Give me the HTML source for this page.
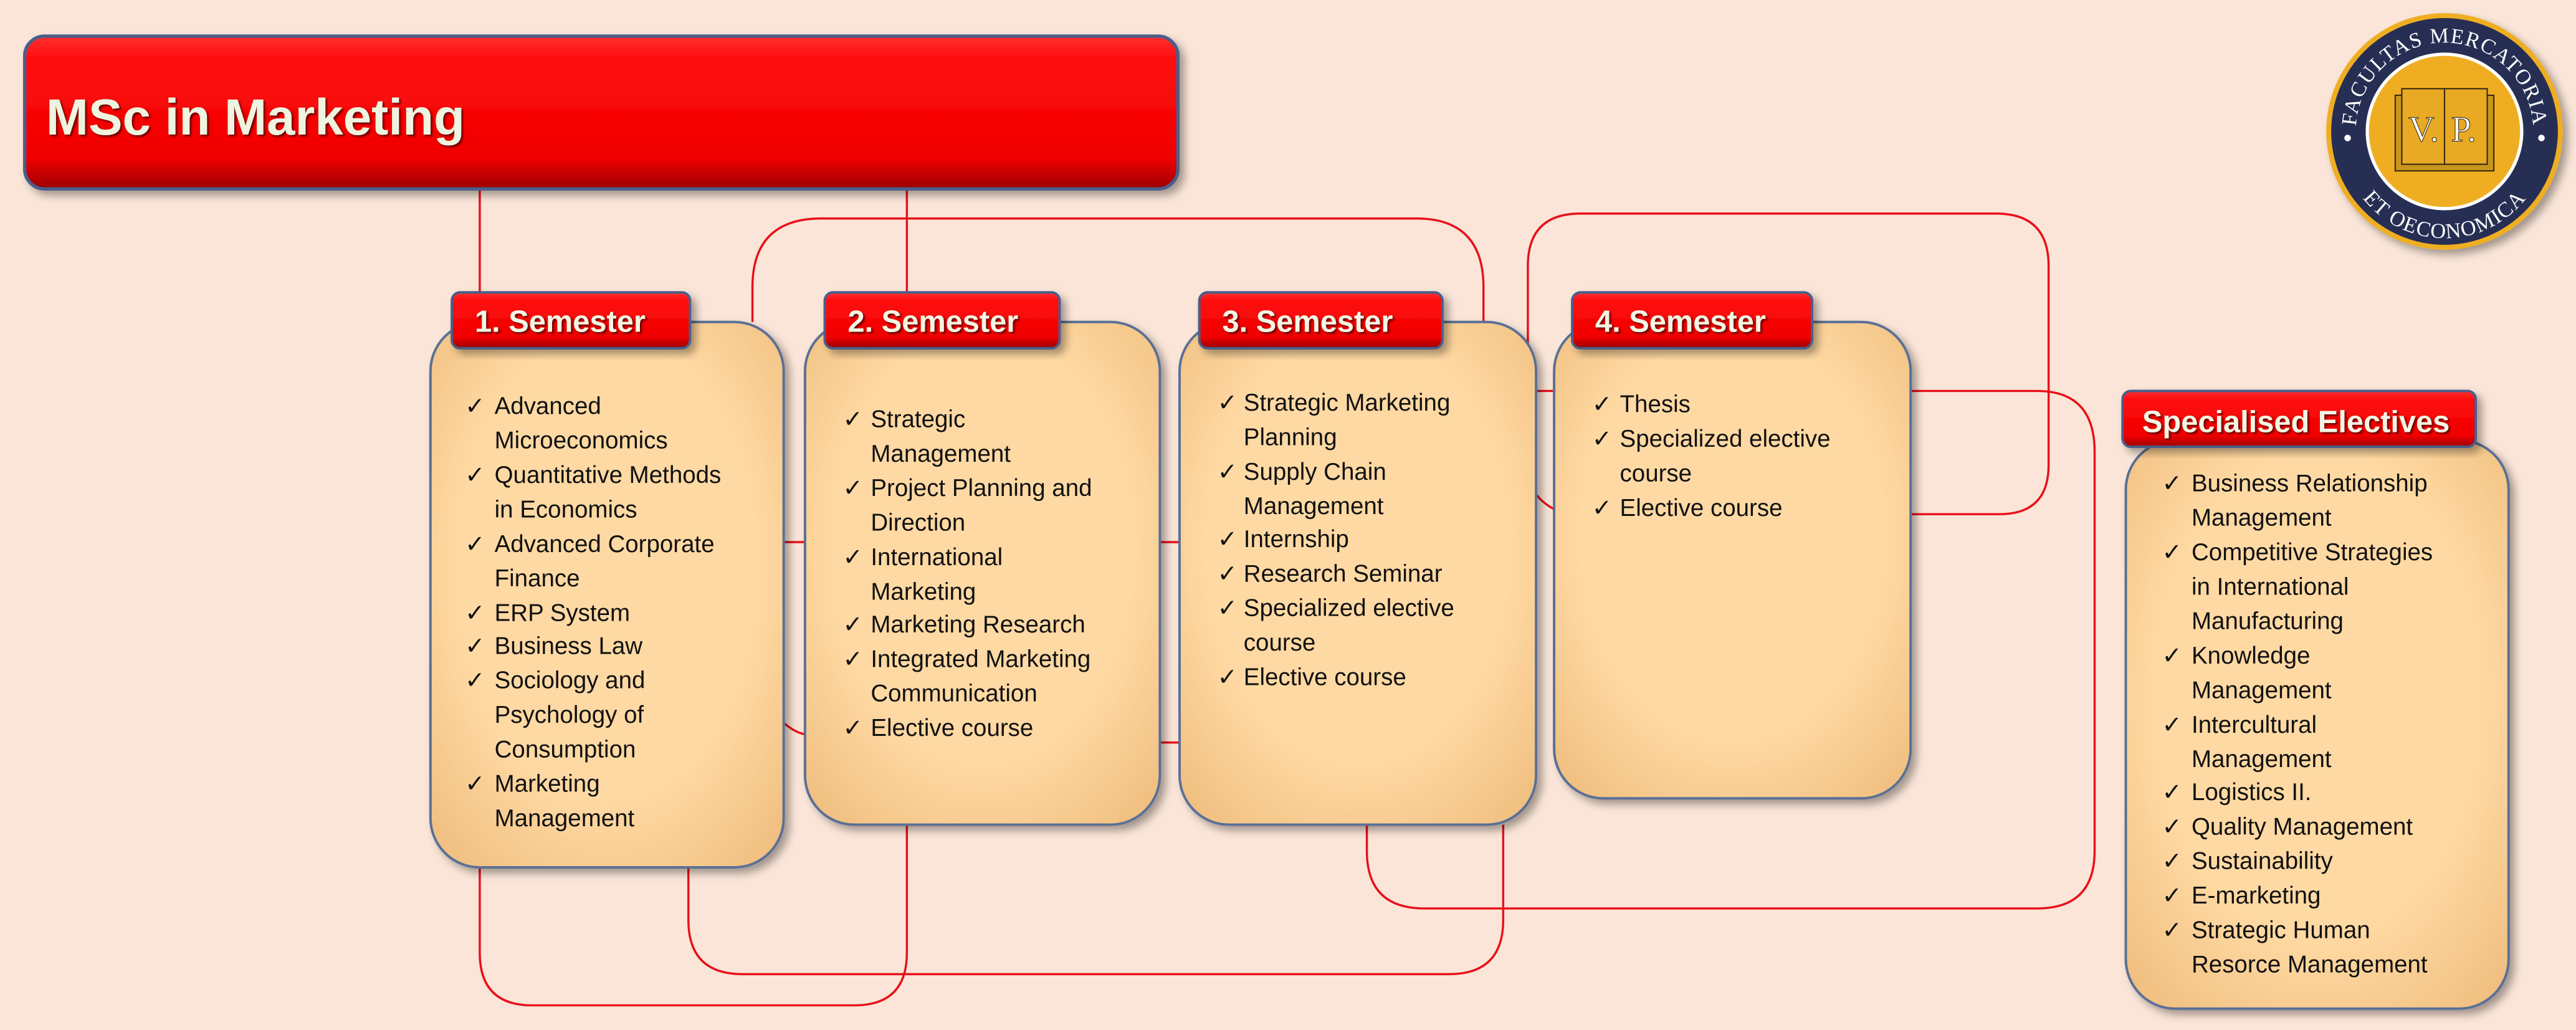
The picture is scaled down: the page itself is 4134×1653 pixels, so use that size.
<!DOCTYPE html>
<html><head><meta charset="utf-8"><style>
html,body{margin:0;padding:0;background:#fae5d8;}
svg{display:block}
.t{font-family:"Liberation Sans",sans-serif;font-size:14.6px;fill:#111}
.h{font-family:"Liberation Sans",sans-serif;font-weight:bold;font-size:18.5px;fill:#f2f6e4}
.ln{fill:none;stroke:#e8101a;stroke-width:1.3}
</style></head><body>
<svg width="4134" height="1653" viewBox="0 0 1568 627" xmlns="http://www.w3.org/2000/svg">
<defs>
<linearGradient id="red" x1="0" y1="0" x2="0" y2="1">
<stop offset="0" stop-color="#ff3030"/><stop offset="0.15" stop-color="#ff0d0d"/><stop offset="0.8" stop-color="#f00000"/><stop offset="1" stop-color="#9a0000"/></linearGradient>
<radialGradient id="peach" cx="0.5" cy="0.45" r="0.7">
<stop offset="0.6" stop-color="#ffd9a3"/><stop offset="1" stop-color="#f0bf80"/></radialGradient>
<filter id="sh" x="-10%" y="-10%" width="130%" height="130%"><feDropShadow dx="3" dy="3" stdDeviation="2.5" flood-color="#000" flood-opacity="0.35"/></filter>
<filter id="ts"><feDropShadow dx="1" dy="1" stdDeviation="0.6" flood-color="#000" flood-opacity="0.6"/></filter>
<path id="arcTop" d="M1434,80 A54,54 0 0 1 1542,80"/>
<path id="arcBot" d="M1425,82 A63,63 0 0 0 1551,82"/>
</defs>
<rect width="1568" height="627" fill="#fae5d8"/>

<path class="ln" d="M292,115 V178 M552,115 V178"/>
<path class="ln" d="M458,196 V175 Q458,133 500,133 H862 Q903,133 903,175 V196"/>
<path class="ln" d="M946,310 Q933,303 930,290 V162 Q930,130 962,130 H1215 Q1247,130 1247,162 V283 Q1247,313 1217,313 H1163"/>
<path class="ln" d="M935,238 H946"/>
<path class="ln" d="M1163,238 H1240 Q1275,238 1275,275 V518 Q1275,553 1240,553 H867 Q832,553 832,518 V502"/>
<path class="ln" d="M292,528 V580 Q292,612 324,612 H520 Q552,612 552,580 V502"/>
<path class="ln" d="M419,528 V560 Q419,593 452,593 H882 Q915,593 915,560 V502"/>
<path class="ln" d="M477,330 H490 M477,440 Q484,446 490,447 M706,330 H718 M706,452 H718"/>

<rect x="15" y="22" width="702" height="93" rx="12" fill="url(#red)" stroke="#4a5f8a" stroke-width="2" filter="url(#sh)"/>
<text x="28" y="82" font-family="Liberation Sans,sans-serif" font-weight="bold" font-size="31" fill="#eef4e0" filter="url(#ts)">MSc in Marketing</text>

<rect x="262" y="196" width="215" height="332" rx="30" fill="url(#peach)" stroke="#5a6f95" stroke-width="1.5" filter="url(#sh)"/>
<rect x="490" y="196" width="216" height="306" rx="30" fill="url(#peach)" stroke="#5a6f95" stroke-width="1.5" filter="url(#sh)"/>
<rect x="718" y="196" width="217" height="306" rx="30" fill="url(#peach)" stroke="#5a6f95" stroke-width="1.5" filter="url(#sh)"/>
<rect x="946" y="196" width="217" height="290" rx="30" fill="url(#peach)" stroke="#5a6f95" stroke-width="1.5" filter="url(#sh)"/>
<rect x="1294" y="268" width="233" height="346" rx="30" fill="url(#peach)" stroke="#5a6f95" stroke-width="1.5" filter="url(#sh)"/>

<rect x="275" y="178" width="145" height="34" rx="5" fill="url(#red)" stroke="#4a5f8a" stroke-width="1.5" filter="url(#sh)"/>
<rect x="502" y="178" width="143" height="34" rx="5" fill="url(#red)" stroke="#4a5f8a" stroke-width="1.5" filter="url(#sh)"/>
<rect x="730" y="178" width="148" height="34" rx="5" fill="url(#red)" stroke="#4a5f8a" stroke-width="1.5" filter="url(#sh)"/>
<rect x="957" y="178" width="146" height="34" rx="5" fill="url(#red)" stroke="#4a5f8a" stroke-width="1.5" filter="url(#sh)"/>
<rect x="1292" y="238" width="215" height="34" rx="5" fill="url(#red)" stroke="#4a5f8a" stroke-width="1.5" filter="url(#sh)"/>
<text class="h" x="289" y="202" filter="url(#ts)">1. Semester</text>
<text class="h" x="516" y="202" filter="url(#ts)">2. Semester</text>
<text class="h" x="744" y="202" filter="url(#ts)">3. Semester</text>
<text class="h" x="971" y="202" filter="url(#ts)">4. Semester</text>
<text class="h" x="1304" y="263" filter="url(#ts)">Specialised Electives</text>

<text class="t" x="283" y="252">✓</text><text class="t" x="301" y="252">Advanced</text>
<text class="t" x="301" y="273">Microeconomics</text>
<text class="t" x="283" y="294">✓</text><text class="t" x="301" y="294">Quantitative Methods</text>
<text class="t" x="301" y="315">in Economics</text>
<text class="t" x="283" y="336">✓</text><text class="t" x="301" y="336">Advanced Corporate</text>
<text class="t" x="301" y="357">Finance</text>
<text class="t" x="283" y="378">✓</text><text class="t" x="301" y="378">ERP System</text>
<text class="t" x="283" y="398">✓</text><text class="t" x="301" y="398">Business Law</text>
<text class="t" x="283" y="419">✓</text><text class="t" x="301" y="419">Sociology and</text>
<text class="t" x="301" y="440">Psychology of</text>
<text class="t" x="301" y="461">Consumption</text>
<text class="t" x="283" y="482">✓</text><text class="t" x="301" y="482">Marketing</text>
<text class="t" x="301" y="503">Management</text>

<text class="t" x="513" y="260">✓</text><text class="t" x="530" y="260">Strategic</text>
<text class="t" x="530" y="281">Management</text>
<text class="t" x="513" y="302">✓</text><text class="t" x="530" y="302">Project Planning and</text>
<text class="t" x="530" y="323">Direction</text>
<text class="t" x="513" y="344">✓</text><text class="t" x="530" y="344">International</text>
<text class="t" x="530" y="365">Marketing</text>
<text class="t" x="513" y="385">✓</text><text class="t" x="530" y="385">Marketing Research</text>
<text class="t" x="513" y="406">✓</text><text class="t" x="530" y="406">Integrated Marketing</text>
<text class="t" x="530" y="427">Communication</text>
<text class="t" x="513" y="448">✓</text><text class="t" x="530" y="448">Elective course</text>

<text class="t" x="741" y="250">✓</text><text class="t" x="757" y="250">Strategic Marketing</text>
<text class="t" x="757" y="271">Planning</text>
<text class="t" x="741" y="292">✓</text><text class="t" x="757" y="292">Supply Chain</text>
<text class="t" x="757" y="313">Management</text>
<text class="t" x="741" y="333">✓</text><text class="t" x="757" y="333">Internship</text>
<text class="t" x="741" y="354">✓</text><text class="t" x="757" y="354">Research Seminar</text>
<text class="t" x="741" y="375">✓</text><text class="t" x="757" y="375">Specialized elective</text>
<text class="t" x="757" y="396">course</text>
<text class="t" x="741" y="417">✓</text><text class="t" x="757" y="417">Elective course</text>

<text class="t" x="969" y="251">✓</text><text class="t" x="986" y="251">Thesis</text>
<text class="t" x="969" y="272">✓</text><text class="t" x="986" y="272">Specialized elective</text>
<text class="t" x="986" y="293">course</text>
<text class="t" x="969" y="314">✓</text><text class="t" x="986" y="314">Elective course</text>

<text class="t" x="1316" y="299">✓</text><text class="t" x="1334" y="299">Business Relationship</text>
<text class="t" x="1334" y="320">Management</text>
<text class="t" x="1316" y="341">✓</text><text class="t" x="1334" y="341">Competitive Strategies</text>
<text class="t" x="1334" y="362">in International</text>
<text class="t" x="1334" y="383">Manufacturing</text>
<text class="t" x="1316" y="404">✓</text><text class="t" x="1334" y="404">Knowledge</text>
<text class="t" x="1334" y="425">Management</text>
<text class="t" x="1316" y="446">✓</text><text class="t" x="1334" y="446">Intercultural</text>
<text class="t" x="1334" y="467">Management</text>
<text class="t" x="1316" y="487">✓</text><text class="t" x="1334" y="487">Logistics II.</text>
<text class="t" x="1316" y="508">✓</text><text class="t" x="1334" y="508">Quality Management</text>
<text class="t" x="1316" y="529">✓</text><text class="t" x="1334" y="529">Sustainability</text>
<text class="t" x="1316" y="550">✓</text><text class="t" x="1334" y="550">E-marketing</text>
<text class="t" x="1316" y="571">✓</text><text class="t" x="1334" y="571">Strategic Human</text>
<text class="t" x="1334" y="592">Resorce Management</text>

<g filter="url(#sh)">
<circle cx="1488" cy="80" r="72" fill="#efae22"/>
<circle cx="1488" cy="80" r="69" fill="#272d52"/>
<circle cx="1488" cy="80" r="48" fill="#fff"/>
<circle cx="1488" cy="80" r="46" fill="#efae22"/>
</g>
<rect x="1458" y="58" width="60" height="46" fill="#c9961e" stroke="#3a2a10" stroke-width="0.8"/>
<rect x="1462" y="54" width="26" height="46" fill="#e8a923" stroke="#3a2a10" stroke-width="0.8"/>
<rect x="1488" y="54" width="26" height="46" fill="#e8a923" stroke="#3a2a10" stroke-width="0.8"/>
<text x="1466" y="86" font-family="Liberation Serif,serif" font-size="22" fill="#fff" stroke="#3a2a10" stroke-width="0.4">V.</text>
<text x="1492" y="86" font-family="Liberation Serif,serif" font-size="22" fill="#fff" stroke="#3a2a10" stroke-width="0.4">P.</text>
<text font-family="Liberation Serif,serif" font-size="13" fill="#fff" letter-spacing="0.6"><textPath href="#arcTop" startOffset="50%" text-anchor="middle">FACULTAS MERCATORIA</textPath></text>
<text font-family="Liberation Serif,serif" font-size="13" fill="#fff" letter-spacing="0.6"><textPath href="#arcBot" startOffset="50%" text-anchor="middle">ET OECONOMICA</textPath></text>
<circle cx="1429" cy="84" r="2" fill="#fff"/><circle cx="1547" cy="84" r="2" fill="#fff"/>
</svg>
</body></html>
